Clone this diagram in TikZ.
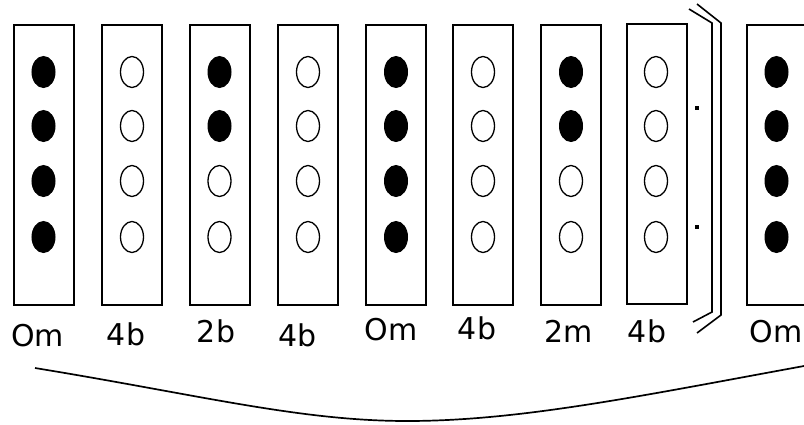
\documentclass[tikz,border=0pt]{standalone}
\usepackage{fontspec}
\setmainfont{DejaVu Sans}
\usetikzlibrary{shapes.geometric}

\begin{document}
\begin{tikzpicture}[x=1pt,y=-1pt,font=\fontsize{30}{33}\selectfont,
  slot/.style={draw,line width=1.7pt,minimum width=60pt,minimum height=280pt,inner sep=0pt},
  full/.style={ellipse,draw,line width=1pt,fill=black,minimum width=23pt,minimum height=31pt,inner sep=0pt},
  empty/.style={ellipse,draw,line width=1.3pt,minimum width=23pt,minimum height=31pt,inner sep=0pt},
  lbl/.style={anchor=base,inner sep=0pt},
  dotm/.style={fill,minimum size=4pt,inner sep=0pt},
  brk/.style={line width=1.6pt}]
  \useasboundingbox (0,0) rectangle (804,424);
  \clip (0,0) rectangle (804,424);
  % columns
  \foreach \n/\cx/\cy in {1/44/165,2/132/165,3/220/165,4/308/165,5/396/165,6/483/165,7/571/165,8/657/164,9/777/165}
    \node[slot] (s\n) at (\cx,\cy) {};
  \foreach \n/\cx/\a/\b/\c/\d in {1/43.5/full/full/full/full,2/132/empty/empty/empty/empty,
      3/219.5/full/full/empty/empty,4/308/empty/empty/empty/empty,5/396/full/full/full/full,
      6/483/empty/empty/empty/empty,7/571/full/full/empty/empty,8/656/empty/empty/empty/empty,
      9/776.5/full/full/full/full}
    \foreach \j/\y/\s in {1/72/\a,2/126/\b,3/181/\c,4/237/\d}
      \node[\s] (e\n-\j) at (\cx,\y) {};
  % labels
  \node[lbl] (l1) at (37.5,346) {Om};
  \node[lbl] (l2) at (126,345) {4b};
  \node[lbl] (l3) at (216,342) {2b};
  \node[lbl] (l4) at (297.5,346) {4b};
  \node[lbl] (l5) at (391,340) {Om};
  \node[lbl] (l6) at (477,339) {4b};
  \node[lbl] (l7) at (569,342) {2m};
  \node[lbl] (l8) at (647,342) {4b};
  \node[lbl] (l9) at (776,342) {Om};
  % break
  \node[dotm] (d1) at (697,108) {};
  \node[dotm] (d2) at (697,227) {};
  \coordinate (ia) at (689,9);   \coordinate (ib) at (712,23);
  \coordinate (ic) at (712,312); \coordinate (id) at (693,322);
  \coordinate (oa) at (697,4);   \coordinate (ob) at (721,23);
  \coordinate (oc) at (721,315); \coordinate (od) at (697,333);
  \draw[brk] (ia) -- (ib) -- (ic) -- (id);
  \draw[brk] (oa) -- (ob) -- (oc) -- (od);
  % brace
  \coordinate (bl) at (35,368);
  \coordinate (bm) at (407,421);
  \coordinate (br) at (804,366);
  \draw[line width=1.7pt] (bl) .. controls (200,395) and (300,421) .. (bm)
    .. controls (520,421) and (640,396) .. (br);
\end{tikzpicture}
\end{document}
